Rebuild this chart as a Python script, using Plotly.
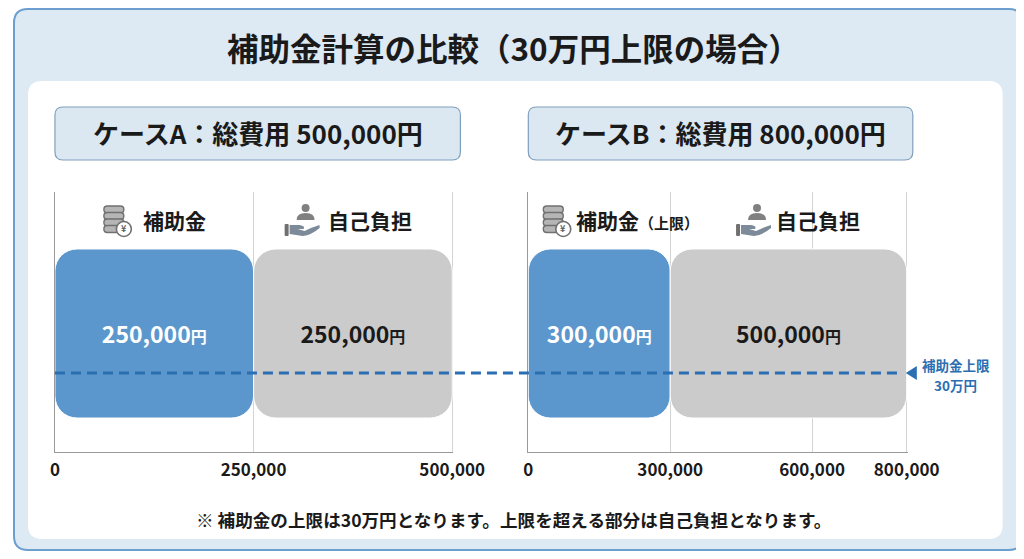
import plotly.graph_objects as go

# the photographed page squeezes the figure a little horizontally and the body
# keeps its default margin, so layout coordinates (in reference pixels) are
# mapped into figure pixels through these constants
SX, AX = 0.966, 11
AY = 8
FW = 1049
FH = 543

# --- data ---
title = "補助金計算の比較（30万円上限の場合）"
case_titles = ["ケースA：総費用 500,000円", "ケースB：総費用 800,000円"]
totals = [500000, 800000]
subsidy = [250000, 300000]
self_pay = [250000, 500000]
subsidy_names = ["補助金", "補助金<span style='font-size:15px'>（上限）</span>"]
self_name = "自己負担"
tick_vals = [[0, 250000, 500000], [0, 300000, 600000, 800000]]
cap_lines = ["補助金上限", "30万円"]
note = "※ 補助金の上限は30万円となります。上限を超える部分は自己負担となります。"

BLUE = "#5b97cd"
GRAY = "#cbcbcb"
DARK = "#1a1a1a"
CAP_BLUE = "#2a6fb2"
FONT = "Noto Sans CJK JP"


def px(x):
    return (x - AX) / SX / FW


def py(y):
    return 1 - (y - AY) / FH


def P(x, y):
    return f"{px(x):.5f},{py(y):.5f}"


def rrect(x0, y0, x1, y1, r):
    return (f"M{P(x0 + r, y0)} L{P(x1 - r, y0)} Q{P(x1, y0)} {P(x1, y0 + r)} "
            f"L{P(x1, y1 - r)} Q{P(x1, y1)} {P(x1 - r, y1)} L{P(x0 + r, y1)} "
            f"Q{P(x0, y1)} {P(x0, y1 - r)} L{P(x0, y0 + r)} Q{P(x0, y0)} {P(x0 + r, y0)} Z")


def text(x, y, s, size, color=DARK, bold=True):
    if bold:
        s = f"<b>{s}</b>"
    fig.add_annotation(x=px(x), y=py(y), xref="paper", yref="paper", text=s,
                       xanchor="center", yanchor="middle", showarrow=False,
                       font=dict(family=FONT, size=size, color=color))


def shape_path(path, fill, line="rgba(0,0,0,0)", width=0, layer="below"):
    fig.add_shape(type="path", path=path, xref="paper", yref="paper", fillcolor=fill,
                  line=dict(color=line, width=width), layer=layer)


def circle(cx, cy, r, fill, line="rgba(0,0,0,0)", width=0):
    fig.add_shape(type="circle", xref="paper", yref="paper",
                  x0=px(cx - r), x1=px(cx + r), y0=py(cy + r), y1=py(cy - r),
                  fillcolor=fill, line=dict(color=line, width=width), layer="above")


def coin_icon(cx, cy):
    for k in range(4):
        y0 = cy - 14 + k * 6.5
        shape_path(rrect(cx - 11, y0, cx + 9, y0 + 7, 3.5), "#b5b5b5", "#707070", 1.4, "above")
    circle(cx + 9, cy + 9, 7.5, "white", "#707070", 1.6)
    text(cx + 9, cy + 9, "¥", 9, "#606060")


def hand_icon(cx, cy):
    circle(cx + 4, cy - 14, 4, "#808080")
    shape_path(f"M{P(cx - 5, cy - 2)} Q{P(cx - 5, cy - 9)} {P(cx + 4, cy - 9)} "
               f"Q{P(cx + 13, cy - 9)} {P(cx + 13, cy - 2)} Z", "#808080", layer="above")
    shape_path(f"M{P(cx - 12, cy + 3)} L{P(cx - 2, cy + 3)} Q{P(cx + 4, cy + 4)} {P(cx + 2, cy + 7)} "
               f"L{P(cx - 4, cy + 7)} L{P(cx + 3, cy + 9)} Q{P(cx + 11, cy + 5)} {P(cx + 18, cy + 3)} "
               f"L{P(cx + 18, cy + 6)} Q{P(cx + 10, cy + 13)} {P(cx + 1, cy + 14)} "
               f"L{P(cx - 12, cy + 12)} Z", "#7c8a99", layer="above")
    shape_path(rrect(cx - 17, cy + 2, cx - 13, cy + 14, 1), "#707070", layer="above")


fig = go.Figure()

# background frame and inner panel
shape_path(rrect(12, 9, 1022, 550, 14), "#dde9f3", "#6c9fd0", 2)
shape_path(rrect(26, 81, 1002, 539, 14), "white")

# plot domains (reference pixels)
x_dom = [(53, 452), (527, 907)]
y_top, y_bot = 192, 452
axes = [("x", "y"), ("x2", "y2")]

for i in range(2):
    xa, ya = axes[i]
    fig.add_trace(go.Bar(
        y=[0], x=[-subsidy[i]], base=[subsidy[i]], orientation="h", width=1,
        xaxis=xa, yaxis=ya, marker=dict(color=BLUE, cornerradius=22, line=dict(color="white", width=1)),
        text=[f"<b>{subsidy[i]:,}<span style='font-size:16px'>円</span></b>"],
        textposition="inside", insidetextanchor="middle", textangle=0, constraintext="none",
        textfont=dict(family=FONT, size=23, color="white"), hoverinfo="skip", showlegend=False))
    fig.add_trace(go.Bar(
        y=[0], x=[self_pay[i]], base=[subsidy[i]], orientation="h", width=1,
        xaxis=xa, yaxis=ya, marker=dict(color=GRAY, cornerradius=22, line=dict(color="white", width=1)),
        text=[f"<b>{self_pay[i]:,}<span style='font-size:16px'>円</span></b>"],
        textposition="inside", insidetextanchor="middle", textangle=0, constraintext="none",
        textfont=dict(family=FONT, size=23, color=DARK), hoverinfo="skip", showlegend=False))

axis_common = dict(showline=True, linecolor="#9a9a9a", linewidth=1.2, zeroline=False)
for i in range(2):
    sfx = "" if i == 0 else str(i + 1)
    fig.update_layout(**{
        f"xaxis{sfx}": dict(domain=[px(x_dom[i][0]), px(x_dom[i][1])], range=[0, totals[i] * 1.003],
                            tickvals=tick_vals[i], ticktext=[f"<b>{v:,}</b>" for v in tick_vals[i]],
                            showgrid=True, gridcolor="#d4d4d4", gridwidth=1, ticks="",
                            tickfont=dict(family=FONT, size=17, color=DARK), ticklabelstandoff=2,
                            anchor=f"y{sfx}", fixedrange=True, **axis_common),
        f"yaxis{sfx}": dict(domain=[py(y_bot), py(y_top)], range=[-0.701, 0.837],
                            showticklabels=False, showgrid=False, ticks="", anchor=f"x{sfx}",
                            fixedrange=True, **axis_common),
    })

# title
text(512, 47, title, 31.5)

# case header boxes
boxes = [(53, 459), (527, 912)]
for i, (bx0, bx1) in enumerate(boxes):
    shape_path(rrect(bx0, 107, bx1, 160, 8), "#dbe8f2", "#809fbd", 1.2)
    text((bx0 + bx1) / 2, 133, case_titles[i], 26)

# category headers with icons
coin_icon(113, 220)
text(173, 220, subsidy_names[0], 21)
hand_icon(300, 222)
text(368, 220, self_name, 21)
coin_icon(553, 220)
text(636, 220, subsidy_names[1], 21)
hand_icon(752, 222)
text(817, 220, self_name, 21)

# subsidy cap reference line
fig.add_shape(type="line", xref="paper", yref="paper", x0=px(53), x1=px(898),
              y0=py(373), y1=py(373), line=dict(color=CAP_BLUE, width=3, dash="10px,6px"),
              layer="above")
shape_path(f"M{P(905, 373)} L{P(916, 366)} L{P(916, 380)} Z", CAP_BLUE, layer="above")
text(955, 365, cap_lines[0], 13.5, CAP_BLUE)
text(955, 385, cap_lines[1], 13.5, CAP_BLUE)

# footnote
text(512, 519, note, 17.6)

fig.update_layout(width=FW, height=FH, autosize=False, margin=dict(l=0, r=0, t=0, b=0),
                  paper_bgcolor="white", plot_bgcolor="rgba(0,0,0,0)",
                  barmode="overlay", showlegend=False)

fig.write_html("out.html")
